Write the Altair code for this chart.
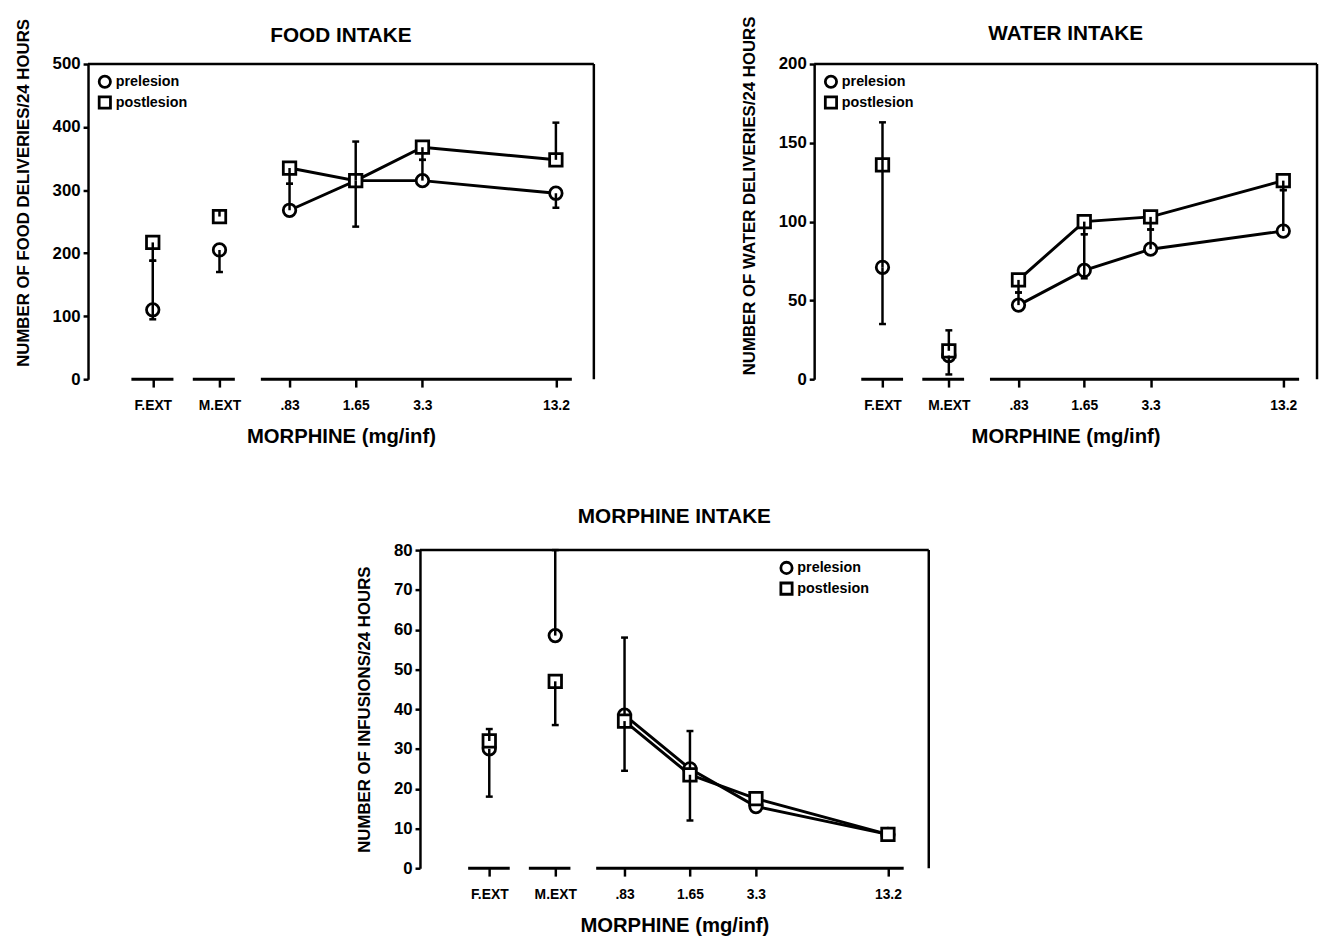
import math
import altair as alt
import pandas as pd

# ---------------- data ----------------
categories = ["F.EXT", "M.EXT", ".83", "1.65", "3.3", "13.2"]
doses = [0.83, 1.65, 3.3, 13.2]              # mg/inf, log-spaced on the axis
ext_positions = [-2.05, -1.05]              # extinction conditions, in doubling steps left of .83
series_names = ["prelesion", "postlesion"]
series_shapes = ["circle", "square"]

food_pre = [110, 205, 268, 315, 315, 295]
food_post = [217, 258, 335, 315, 368, 348]
food_pre_lo = [95, 170, 268, 242, 315, 272]
food_pre_hi = [188, 205, 310, 315, 348, 295]
food_post_lo = [188, 258, 310, 315, 348, 348]
food_post_hi = [217, 268, 335, 377, 368, 407]

water_pre = [71, 15, 47, 69, 82.5, 94]
water_post = [136, 18, 63, 100, 103, 126]
water_pre_lo = [35, 3, 47, 64, 82.5, 94]
water_pre_hi = [71, 15, 55, 92, 95, 120]
water_post_lo = [71, 18, 55, 92, 95, 120]
water_post_hi = [163, 31, 63, 100, 103, 126]

morph_pre = [30, 58.5, 38.5, 25, 15.5, 8.5]
morph_post = [32, 47, 37, 23.5, 17.5, 8.5]
morph_pre_lo = [18, 58.5, 38.5, 25, 15.5, 8.5]
morph_pre_hi = [30, 80, 58, 34.5, 15.5, 8.5]
morph_post_lo = [32, 36, 24.5, 12, 17.5, 8.5]
morph_post_hi = [35, 47, 37, 23.5, 17.5, 8.5]

x_positions = ext_positions + [math.log2(d / doses[0]) for d in doses]

FONT = "Liberation Sans, Arial, sans-serif"
BLACK = "#000000"
axis_segments = [(-2.37, -1.74), (-1.45, -0.82), (-0.43, 4.23)]

label_expr = ("datum.value < -1.5 ? 'F.EXT' : datum.value < -0.5 ? 'M.EXT' : "
              "datum.value < 0.5 ? '.83' : datum.value < 1.5 ? '1.65' : "
              "datum.value < 3 ? '3.3' : '13.2'")

ONE = pd.DataFrame({"k": [0]})


def panel(title, ytitle, pre, post, pre_lo, pre_hi, post_lo, post_hi,
          ymax, ystep, width, height, xdom, legend_xy,
          title_y=None, title_offset=14):
    rows = []
    for s, vals, lo, hi in [("prelesion", pre, pre_lo, pre_hi),
                            ("postlesion", post, post_lo, post_hi)]:
        for i, c in enumerate(categories):
            rows.append({"x": x_positions[i], "y": vals[i], "lo": lo[i],
                         "hi": hi[i], "series": s, "cat": c,
                         "dose": i >= 2})
    df = pd.DataFrame(rows)

    xs = alt.Scale(domain=list(xdom), nice=False, zero=False)
    ys = alt.Scale(domain=[0, ymax], nice=False, zero=True)
    xaxis = alt.Axis(title="MORPHINE (mg/inf)", values=x_positions,
                     labelExpr=label_expr, domain=False, grid=False,
                     ticks=True, tickSize=8, tickWidth=2.5, tickColor=BLACK,
                     labelFont=FONT, labelFontSize=14, labelFontWeight="bold",
                     labelColor=BLACK, labelPadding=12, labelFlush=False,
                     titleFont=FONT, titleFontSize=20.5, titleFontWeight="bold",
                     titleColor=BLACK, titlePadding=14)
    yaxis_kw = dict(title=ytitle, values=list(range(0, ymax + 1, ystep)),
                    domain=True, domainColor=BLACK, domainWidth=2.5,
                    grid=False, ticks=True, tickSize=5, tickWidth=2.5,
                    tickColor=BLACK, labelFont=FONT, labelFontSize=17,
                    labelFontWeight="bold", labelColor=BLACK, labelPadding=3,
                    titleFont=FONT, titleFontSize=17, titleFontWeight="bold",
                    titleColor=BLACK, titlePadding=20)
    if title_y is not None:
        yaxis_kw["titleY"] = title_y
    yaxis = alt.Axis(**yaxis_kw)

    def X(f):
        return alt.X(f, type="quantitative", scale=xs, axis=xaxis)

    def Y(f):
        return alt.Y(f, type="quantitative", scale=ys, axis=yaxis)

    frame_top = alt.Chart(pd.DataFrame({"x": [xdom[0]], "x2": [xdom[1]],
                                        "y": [ymax]})).mark_rule(
        color=BLACK, strokeWidth=2.5).encode(x=X("x"), x2="x2", y=Y("y"))
    frame_right = alt.Chart(pd.DataFrame({"x": [xdom[1]], "y": [0],
                                          "y2": [ymax]})).mark_rule(
        color=BLACK, strokeWidth=2.5).encode(x=X("x"), y=Y("y"), y2="y2")
    seg_df = pd.DataFrame({"x": [a for a, b in axis_segments],
                           "x2": [b for a, b in axis_segments],
                           "y": [0] * len(axis_segments)})
    segs = alt.Chart(seg_df).mark_rule(color=BLACK, strokeWidth=3).encode(
        x=X("x"), x2="x2", y=Y("y"))

    base = alt.Chart(df)
    lines = base.transform_filter("datum.dose").mark_line(
        color=BLACK, strokeWidth=3).encode(
        x=X("x"), y=Y("y"), detail="series:N", order="x:Q")
    cap_lo = base.mark_tick(orient="horizontal", color=BLACK, size=7,
                            thickness=2.5, opacity=1).encode(x=X("x"), y=Y("lo"))
    cap_hi = base.mark_tick(orient="horizontal", color=BLACK, size=7,
                            thickness=2.5, opacity=1).encode(x=X("x"), y=Y("hi"))
    points = base.mark_point(filled=True, fill="white", stroke=BLACK,
                             strokeWidth=2.8, size=160, opacity=1).encode(
        x=X("x"), y=Y("y"),
        shape=alt.Shape("series:N",
                        scale=alt.Scale(domain=series_names,
                                        range=series_shapes),
                        legend=None))
    errs = base.mark_rule(color=BLACK, strokeWidth=2.5).encode(
        x=X("x"), y=Y("lo"), y2="hi")

    # in-plot key (symbol + label), placed in pixels from the plot's top-left
    lx, ly = legend_xy
    key_layers = []
    for i, (name, shp) in enumerate(zip(series_names, series_shapes)):
        yy = ly + i * 21
        key_layers.append(alt.Chart(ONE).mark_point(
            shape=shp, filled=True, fill="white", stroke=BLACK,
            strokeWidth=2.8, size=130, opacity=1).encode(
            x=alt.value(lx), y=alt.value(yy)))
        key_layers.append(alt.Chart(ONE).mark_text(
            align="left", baseline="middle", font=FONT, fontSize=14.5,
            fontWeight="bold", color=BLACK).encode(
            x=alt.value(lx + 11), y=alt.value(yy), text=alt.value(name)))

    return alt.layer(frame_top, frame_right, segs, lines, cap_lo, cap_hi,
                     points, errs, *key_layers).properties(
        width=width, height=height,
        title=alt.TitleParams(title, font=FONT, fontSize=21,
                              fontWeight="bold", color=BLACK,
                              anchor="middle", offset=title_offset))


food = panel("FOOD INTAKE", "NUMBER OF FOOD DELIVERIES/24 HOURS",
             food_pre, food_post, food_pre_lo, food_pre_hi,
             food_post_lo, food_post_hi, 500, 100, 512, 319,
             (-3.02, 4.56), (17, 18), title_y=130, title_offset=-28)
water = panel("WATER INTAKE", "NUMBER OF WATER DELIVERIES/24 HOURS",
              water_pre, water_post, water_pre_lo, water_pre_hi,
              water_post_lo, water_post_hi, 200, 50, 509, 319,
              (-3.08, 4.50), (17, 18), title_y=133, title_offset=-28)
morph = panel("MORPHINE INTAKE", "NUMBER OF INFUSIONS/24 HOURS",
              morph_pre, morph_post, morph_pre_lo, morph_pre_hi,
              morph_post_lo, morph_post_hi, 80, 10, 515, 322,
              (-3.10, 4.61), (371, 18), title_offset=14)

spacer = alt.Chart(ONE).mark_point(opacity=0).encode(
    x=alt.X("k:Q", axis=None), y=alt.Y("k:Q", axis=None)).properties(
    width=261, height=10)

top = alt.hconcat(food, water, spacing=146).resolve_scale(
    x="independent", y="independent")
bottom = alt.hconcat(spacer, morph, spacing=10).resolve_scale(
    x="independent", y="independent")

chart = alt.vconcat(top, bottom, spacing=60).resolve_scale(
    x="independent", y="independent").properties(
    padding={"left": 6, "top": 2, "right": 0, "bottom": 2}).configure(
    font=FONT, background="white",
    view=alt.ViewConfig(stroke="transparent", strokeWidth=0))

chart.save("out.html", embed_options={"renderer": "svg", "actions": False})
